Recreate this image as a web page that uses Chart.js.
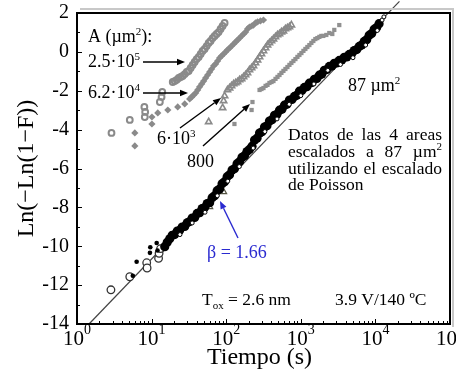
<!DOCTYPE html>
<html>
<head>
<meta charset="utf-8">
<script src="https://cdn.jsdelivr.net/npm/chart.js@4.4.1/dist/chart.umd.min.js"></script>
<style>
  html, body { margin: 0; padding: 0; background: #fff; }
  #wrap { width: 456px; height: 386px; position: relative; }
</style>
</head>
<body>
<div id="wrap"><canvas id="weibull"></canvas></div>
<script>
/* Weibull plot: Ln(-Ln(1-F)) vs tiempo, 4 areas + datos escalados a 87 um2 */

// ---- ejes ----
const xTickExponents = [0, 1, 2, 3, 4, 5];
const yTickLabels = [2, 0, -2, -4, -6, -8, -10, -12, -14];

// ---- A = 2.5e5 um2 (circulos grises) ----
const t250k = [2.9, 5.1, 8.0, 8.2, 8.1, 12.9, 13.6, 13.9, 19.2, 20.4, 21.7, 23.1, 24.6, 26.1, 27.8, 29.6, 31.4, 33.4, 35.5, 37.8, 40.2, 42.8, 45.5, 48.3, 51.4, 54.7, 58.2, 61.8, 65.8, 70.0, 74.4, 79.1, 84.1, 89.5, 95.2];
const y250k = [-4.17, -3.50, -2.83, -3.09, -3.35, -2.58, -2.32, -2.06, -1.55, -1.50, -1.44, -1.34, -1.29, -1.24, -1.14, -1.03, -0.98, -0.83, -0.67, -0.52, -0.37, -0.26, -0.11, 0.05, 0.15, 0.30, 0.46, 0.56, 0.71, 0.82, 0.92, 1.02, 1.18, 1.33, 1.49];

// ---- A = 6.2e4 um2 (rombos grises) ----
const t62k = [5.96, 5.96, 10.1, 10.1, 12.1, 16.5, 22.4, 27.8, 32.4, 34.5, 36.6, 39.0, 41.5, 44.1, 46.9, 49.9, 53.0, 56.4, 60.0, 63.8, 67.9, 72.2, 76.7, 81.6, 86.8, 92.3, 98.2, 104, 111, 118, 126, 134, 142, 151, 161, 171, 182, 193, 205, 219, 232, 247, 263, 288, 316];
const y62k = [-4.17, -4.84, -3.35, -3.71, -3.14, -2.99, -2.83, -2.68, -2.42, -2.32, -2.22, -2.11, -1.96, -1.80, -1.65, -1.50, -1.34, -1.19, -1.03, -0.88, -0.72, -0.62, -0.47, -0.31, -0.21, -0.11, 0.00, 0.10, 0.20, 0.30, 0.41, 0.51, 0.61, 0.71, 0.82, 0.92, 1.02, 1.18, 1.28, 1.33, 1.38, 1.49, 1.54, 1.59, 1.64];

// ---- A = 6e3 um2 (triangulos) ----
const t6k = [58.2, 89.5, 92.3, 95.2, 104, 111, 118, 126, 134, 142, 151, 161, 171, 182, 193, 205, 219, 232, 247, 263, 280, 297, 316, 337, 358, 380, 405, 430, 458, 487, 518, 550, 585, 622, 662, 704, 748];
const y6k = [-3.60, -2.88, -2.52, -2.27, -1.96, -1.86, -1.75, -1.65, -1.60, -1.55, -1.44, -1.39, -1.29, -1.19, -1.08, -0.93, -0.83, -0.72, -0.57, -0.42, -0.26, -0.11, 0.05, 0.20, 0.35, 0.46, 0.56, 0.66, 0.77, 0.87, 0.92, 1.02, 1.07, 1.18, 1.23, 1.28, 1.38];

// ---- A = 800 um2 (cuadrados) ----
const t800 = [129, 219, 225, 280, 297, 316, 337, 358, 380, 405, 430, 458, 487, 518, 550, 585, 622, 662, 704, 748, 796, 847, 901, 958, 1019, 1084, 1152, 1225, 1303, 1386, 1473, 1567, 1667, 1773, 1885, 2004, 2198, 2411, 2644, 2812, 3280];
const y800 = [-3.71, -2.99, -2.58, -1.96, -1.91, -1.86, -1.75, -1.70, -1.60, -1.55, -1.50, -1.39, -1.29, -1.19, -1.08, -0.98, -0.88, -0.78, -0.67, -0.57, -0.47, -0.37, -0.26, -0.16, -0.06, 0.05, 0.15, 0.25, 0.35, 0.46, 0.56, 0.66, 0.71, 0.77, 0.82, 0.82, 0.87, 0.97, 0.92, 1.13, 1.38];

// ---- datos escalados a 87 um2 ----
const tScaled = [15.0, 16.2, 17.5, 18.9, 20.4, 22.1, 23.8, 25.7, 27.8, 30.0, 32.4, 35.0, 37.8, 40.8, 44.1, 47.6, 51.4, 55.6, 60.0, 64.8, 70.0, 75.6, 81.6, 88.1, 95.2, 103, 111, 120, 129, 140, 151, 163, 176, 190, 205, 222, 240, 259, 280, 302, 326, 352, 380, 411, 444, 479, 518, 559, 604, 652, 704, 760, 821, 887, 958, 1034, 1117, 1207, 1303, 1407, 1520, 1641, 1773, 1914, 2067, 2233, 2411, 2604, 2812, 3037, 3280, 3542, 3825, 4131, 4462, 4818, 5203, 5619, 6068, 6553, 7077, 7643, 8254, 8914, 9626, 10400, 11200];
const yScaled = [-10.02, -9.80, -9.62, -9.44, -9.40, -9.22, -9.18, -9.01, -8.98, -8.79, -8.73, -8.55, -8.52, -8.31, -8.27, -8.06, -8.01, -7.80, -7.76, -7.50, -7.40, -7.14, -7.05, -6.78, -6.68, -6.42, -6.32, -6.08, -6.01, -5.75, -5.65, -5.42, -5.34, -5.13, -5.02, -4.85, -4.54, -4.44, -4.18, -4.11, -3.87, -3.80, -3.56, -3.49, -3.26, -3.21, -3.00, -2.95, -2.74, -2.69, -2.48, -2.45, -2.29, -2.23, -2.02, -1.99, -1.83, -1.79, -1.61, -1.58, -1.41, -1.37, -1.20, -1.14, -0.95, -0.91, -0.75, -0.73, -0.59, -0.57, -0.44, -0.42, -0.28, -0.26, -0.13, -0.09, 0.07, 0.12, 0.28, 0.35, 0.54, 0.63, 0.85, 0.94, 1.16, 1.25, 1.45];

// muestra de 87 um2 (circulos abiertos sobre la banda)
const t87 = [24, 35, 52, 76, 105, 150, 230, 330, 480, 700, 1000, 1500, 2300, 3400, 5000, 7400, 10600, 12300, 13000];
const y87 = [-9.4, -8.8, -8.25, -7.4, -6.65, -5.9, -4.95, -4.1, -3.45, -2.7, -2.25, -1.65, -0.95, -0.65, -0.3, 0.35, 1.1, 1.64, 1.8];

// tiempos cortos (escalados)
const tEarlyOpen = [2.85, 5.1, 8.6, 8.7, 12.4, 12.6, 13.2];
const yEarlyOpen = [-12.24, -11.57, -10.85, -11.12, -10.62, -10.36, -10.12];
const tEarlyDot = [5.6, 6.3, 9.5, 9.6, 11.7, 12.0];
const yEarlyDot = [-11.52, -10.80, -10.34, -10.05, -9.83, -10.22];
const tScaledTri = [60, 92.3];
const yScaledTri = [-7.97, -7.2];

// ajuste Weibull, beta = 1.66
const tFit = [1.45, 21000];
const yFit = [-14, 2.6];

const SERIF = '"Liberation Serif", "Times New Roman", serif';
const GRAY = '#8a8a8a';

const pts = (ts, ys) => ts.map((t, i) => ({ x: t, y: ys[i] }));

/* ---------- texto con super/subindices ---------- */
function segFont(kind, size) {
  return (kind === 'n' ? size : Math.round(size * 0.62)) + 'px ' + SERIF;
}
function segDy(kind, size) {
  return kind === 'sup' ? -size * 0.4 : kind === 'sub' ? size * 0.25 : 0;
}
function richWidth(ctx, segs, size) {
  let w = 0;
  for (const [t, k = 'n'] of segs) { ctx.font = segFont(k, size); w += ctx.measureText(t).width; }
  return w;
}
function drawRich(ctx, segs, x, y, size) {
  for (const [t, k = 'n'] of segs) {
    ctx.font = segFont(k, size);
    ctx.fillText(t, x, y + segDy(k, size));
    x += ctx.measureText(t).width;
  }
  return x;
}
function arrow(ctx, x1, y1, x2, y2, color) {
  const ang = Math.atan2(y2 - y1, x2 - x1), L = 8, W = 3.2;
  ctx.strokeStyle = color; ctx.fillStyle = color; ctx.lineWidth = 1.4;
  ctx.beginPath();
  ctx.moveTo(x1, y1);
  ctx.lineTo(x2 - L * Math.cos(ang), y2 - L * Math.sin(ang));
  ctx.stroke();
  ctx.beginPath();
  ctx.moveTo(x2, y2);
  ctx.lineTo(x2 - L * Math.cos(ang) + W * Math.sin(ang), y2 - L * Math.sin(ang) - W * Math.cos(ang));
  ctx.lineTo(x2 - L * Math.cos(ang) - W * Math.sin(ang), y2 - L * Math.sin(ang) + W * Math.cos(ang));
  ctx.closePath();
  ctx.fill();
}

/* ---------- marco, marcas y rotulos ---------- */
const framePlugin = {
  id: 'framePlugin',
  afterDatasetsDraw(chart) {
    const { ctx, chartArea: a, scales: { x, y } } = chart;
    ctx.save();

    // sombra del recuadro
    ctx.strokeStyle = '#c8c8c8'; ctx.lineWidth = 2;
    ctx.beginPath();
    ctx.moveTo(a.left + 3, a.top - 4); ctx.lineTo(a.right + 3, a.top - 4); ctx.lineTo(a.right + 3, a.bottom + 3);
    ctx.stroke();

    // marcas hacia dentro
    ctx.strokeStyle = '#000'; ctx.lineWidth = 1;
    ctx.beginPath();
    for (let d = xTickExponents[0]; d < xTickExponents[xTickExponents.length - 1]; d++) {
      for (let k = 1; k <= 9; k++) {
        const px = Math.round(x.getPixelForValue(k * 10 ** d)) + 0.5;
        const len = k === 1 ? 5 : 3;
        ctx.moveTo(px, a.bottom); ctx.lineTo(px, a.bottom - len);
      }
    }
    for (let v = -14; v <= 2; v++) {
      const py = Math.round(y.getPixelForValue(v)) + 0.5;
      ctx.moveTo(a.left, py); ctx.lineTo(a.left + (v % 2 === 0 ? 5 : 3), py);
    }
    ctx.stroke();

    ctx.lineWidth = 2;
    ctx.strokeRect(a.left, a.top, a.right - a.left, a.bottom - a.top);

    // rotulos de los ejes
    ctx.fillStyle = '#000';
    ctx.textBaseline = 'middle'; ctx.textAlign = 'right';
    ctx.font = '20px ' + SERIF;
    yTickLabels.forEach(v => ctx.fillText(String(v), a.left - 8, y.getPixelForValue(v)));

    ctx.textBaseline = 'alphabetic'; ctx.textAlign = 'left';
    xTickExponents.forEach(e => {
      const px = x.getPixelForValue(10 ** e);
      ctx.font = '21px ' + SERIF;
      const wb = ctx.measureText('10').width;
      ctx.font = '14px ' + SERIF;
      const we = ctx.measureText(String(e)).width;
      const x0 = px - (wb + we) / 2;
      ctx.font = '21px ' + SERIF;
      ctx.fillText('10', x0, 345);
      ctx.font = '14px ' + SERIF;
      ctx.fillText(String(e), x0 + wb, 334);
    });

    ctx.font = '24px ' + SERIF;
    ctx.textAlign = 'center';
    ctx.fillText('Tiempo (s)', (a.left + a.right) / 2 - 4, 364);
    ctx.save();
    ctx.translate(33, (a.top + a.bottom) / 2);
    ctx.rotate(-Math.PI / 2);
    ctx.fillText('Ln(\u2212Ln(1\u2212F))', 0, 0);
    ctx.restore();

    // anotaciones
    ctx.textAlign = 'left';
    ctx.fillStyle = '#000';
    drawRich(ctx, [['A (\u00b5m'], ['2', 'sup'], ['):']], 88, 42, 18);
    drawRich(ctx, [['2.5\u00b710'], ['5', 'sup']], 88, 67, 18);
    drawRich(ctx, [['6.2\u00b710'], ['4', 'sup']], 88, 98, 18);
    drawRich(ctx, [['6\u00b710'], ['3', 'sup']], 157, 144, 18);
    drawRich(ctx, [['800']], 187, 167, 18);
    drawRich(ctx, [['87 \u00b5m'], ['2', 'sup']], 348, 91, 18);
    arrow(ctx, 143, 62, 185, 62, '#000');
    arrow(ctx, 143, 93, 188, 93, '#000');
    arrow(ctx, 180, 128, 221, 98, '#000');
    arrow(ctx, 203, 146, 250, 104, '#000');

    // parrafo justificado
    const para = [
      [[['Datos']], [['de']], [['las']], [['4']], [['areas']]],
      [[['escalados']], [['a']], [['87']], [['\u00b5m'], ['2', 'sup']]],
      [[['utilizando']], [['el']], [['escalado']]],
      [[['de']], [['Poisson']]]
    ];
    const pLeft = 288, pRight = 442, pSize = 17.5;
    para.forEach((words, li) => {
      const base = 140 + li * 16.8;
      const widths = words.map(w => richWidth(ctx, w, pSize));
      const total = widths.reduce((s, w) => s + w, 0);
      let gap = li === para.length - 1 ? 4.5 : (pRight - pLeft - total) / (words.length - 1);
      let xx = pLeft;
      words.forEach((w, i) => { drawRich(ctx, w, xx, base, pSize); xx += widths[i] + gap; });
    });

    ctx.fillStyle = '#2a2ad0';
    drawRich(ctx, [['\u03b2 = 1.66']], 207, 258, 18);
    arrow(ctx, 238, 238, 220, 201, '#2a2ad0');

    ctx.fillStyle = '#000';
    drawRich(ctx, [['T'], ['ox', 'sub'], [' = 2.6 nm']], 202, 305, 17.5);
    drawRich(ctx, [['3.9 V/140 \u00baC']], 335, 305, 17.5);

    ctx.restore();
  }
};

new Chart(document.getElementById('weibull'), {
  type: 'scatter',
  data: {
    datasets: [
      { label: '87 \u00b5m2', data: pts(t87, y87), pointStyle: 'circle', pointRadius: 2,
        backgroundColor: '#fff', borderColor: '#000', borderWidth: 1 },
      { label: 'escalados', data: pts(tScaled, yScaled), pointStyle: 'circle', pointRadius: 4.6,
        backgroundColor: '#000', borderColor: '#000', borderWidth: 0 },
      { label: 'escalados (tri)', data: pts(tScaledTri, yScaledTri), pointStyle: 'triangle', pointRadius: 3.5,
        backgroundColor: '#fff', borderColor: '#554', borderWidth: 1.2 },
      { label: 'tempranos', data: pts(tEarlyDot, yEarlyDot), pointStyle: 'circle', pointRadius: 2.3,
        backgroundColor: '#000', borderColor: '#000', borderWidth: 0 },
      { label: 'tempranos (o)', data: pts(tEarlyOpen, yEarlyOpen), pointStyle: 'circle', pointRadius: 3.8,
        backgroundColor: '#fff', borderColor: '#333', borderWidth: 1.3 },
      { label: '800', data: pts(t800, y800), pointStyle: 'rect', pointRadius: 3,
        backgroundColor: '#909090', borderColor: '#909090', borderWidth: 0 },
      { label: '6e3', data: pts(t6k, y6k), pointStyle: 'triangle', pointRadius: 3.6,
        backgroundColor: 'rgba(0,0,0,0)', borderColor: GRAY, borderWidth: 1.6 },
      { label: '6.2e4', data: pts(t62k, y62k), pointStyle: 'rectRot', pointRadius: 3.6,
        backgroundColor: GRAY, borderColor: GRAY, borderWidth: 0 },
      { label: '2.5e5', data: pts(t250k, y250k), pointStyle: 'circle', pointRadius: 2.9,
        backgroundColor: 'rgba(0,0,0,0)', borderColor: GRAY, borderWidth: 2 },
      { label: 'ajuste', data: pts(tFit, yFit), showLine: true, pointRadius: 0,
        borderColor: '#444', borderWidth: 1.2, clip: false }
    ]
  },
  options: {
    responsive: true,
    maintainAspectRatio: false,
    animation: false,
    events: [],
    layout: { padding: { left: 77, right: 5, top: 13, bottom: 62 } },
    plugins: { legend: { display: false }, tooltip: { enabled: false } },
    scales: {
      x: { type: 'logarithmic', min: 1, max: 1e5, display: false },
      y: { type: 'linear', min: -14, max: 2, display: false }
    }
  },
  plugins: [framePlugin]
});
</script>
</body>
</html>
